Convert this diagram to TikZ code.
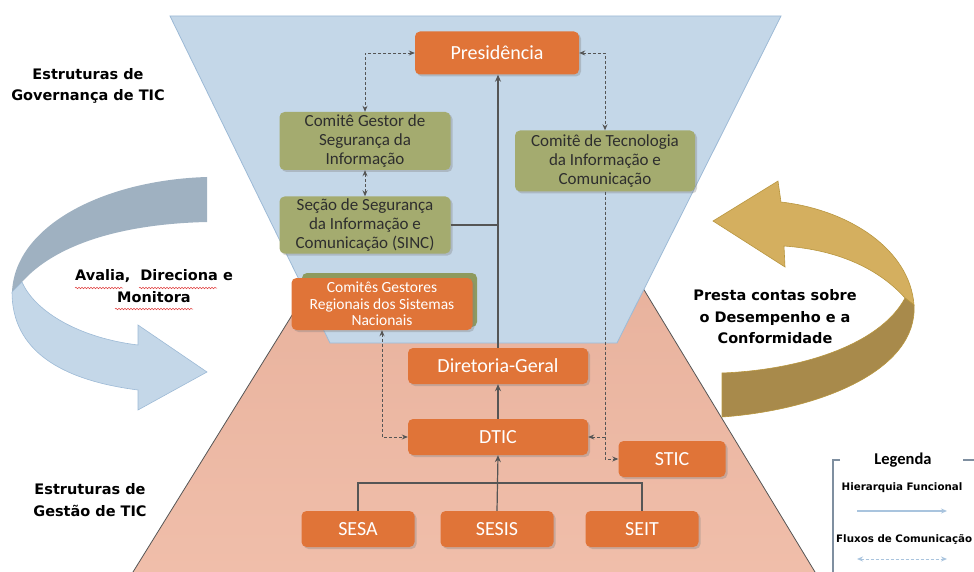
\documentclass[tikz,border=0pt]{standalone}
\usepackage{fontspec}
\setmainfont{Carlito}
\newfontfamily\labelfont{DejaVu Sans}
\usetikzlibrary{arrows.meta,shadows,decorations.pathmorphing}

\definecolor{boxorange}{HTML}{E07438}
\definecolor{boxgreen}{HTML}{A4AB6F}
\definecolor{backgreen}{HTML}{8E9A5E}
\definecolor{textgray}{HTML}{2E2E2E}
\definecolor{linegray}{HTML}{555555}
\definecolor{govblue}{HTML}{C4D7E8}
\definecolor{govedge}{HTML}{9DBAD6}
\definecolor{pinktop}{HTML}{E8B29D}
\definecolor{pinkbot}{HTML}{F0BEAA}
\definecolor{arrowblue}{HTML}{C4D7E8}
\definecolor{arrowdark}{HTML}{9FB1C1}
\definecolor{goldlight}{HTML}{D4AF5F}
\definecolor{golddark}{HTML}{A88A4B}
\definecolor{goldedge}{HTML}{B8963F}
\definecolor{legendgray}{HTML}{7F8FA0}
\definecolor{legendblue}{HTML}{A9C4DE}
\definecolor{spellred}{HTML}{E04040}

\begin{document}
\begin{tikzpicture}[x=1pt,y=-1pt]
\tikzset{
  ftip/.tip={Stealth[length=6pt,width=5pt]},
  box/.style={rounded corners=5pt, minimum height=36pt, align=center, inner sep=2pt,
    drop shadow={shadow xshift=2pt,shadow yshift=-2pt,opacity=0.35}},
  orangebox/.style={box, fill=boxorange, text=white, font=\fontsize{20}{22}\selectfont},
  greenbox/.style={box, fill=boxgreen, text=textgray, font=\fontsize{17}{18.7}\selectfont},
  hier/.style={draw=linegray, line width=1.2pt, -{Stealth[length=7pt,width=6pt]}},
  flux/.style={draw=linegray, line width=0.9pt, dash pattern=on 3pt off 2pt},
  biglabel/.style={font=\labelfont\bfseries\fontsize{14.5}{21.5}\selectfont, align=center},
  leglabel/.style={font=\labelfont\bfseries\fontsize{10.3}{12}\selectfont},
  spell/.style={spellred, line width=0.5pt, decorate, decoration={snake, amplitude=0.8pt, segment length=3pt}},
}
\useasboundingbox (0,0) rectangle (974,572);
\clip (0,0) rectangle (974,572);

% Funnel: management (pink) and governance (blue)
\shade[top color=pinktop, bottom color=pinkbot] (320,270) -- (632,270) -- (815,572) -- (133,572) -- cycle;
\draw[linegray, line width=0.8pt] (320,270) -- (133,572);
\draw[linegray, line width=0.8pt] (632,270) -- (815,572);
\filldraw[fill=govblue, draw=govedge, line width=0.8pt] (170,16) -- (781,16) -- (617,343) -- (330,343) -- cycle;

% Curved arrows
\fill[arrowdark] (207,177) .. controls (105,180) and (15,225) .. (12,292) -- (22,282) .. controls (55,245) and (120,224) .. (207,222) -- cycle;
\filldraw[fill=arrowblue, draw=govedge, line width=0.6pt] (12,292) .. controls (12,350) and (60,380) .. (138,390) -- (138,410) -- (207,372) -- (138,325) -- (138,345) .. controls (80,338) and (35,312) .. (22,282) -- cycle;
\filldraw[fill=goldlight, draw=goldedge, line width=0.6pt] (713,221) -- (778,181) -- (781,202) .. controls (850,210) and (910,250) .. (914,305) -- (905,298) .. controls (880,270) and (840,250) .. (784,246) -- (785,267) -- cycle;
\filldraw[fill=golddark, draw=goldedge, line width=0.6pt] (914,305) .. controls (918,370) and (820,410) .. (722,417) -- (722,373) .. controls (800,370) and (880,345) .. (905,298) -- cycle;

% Labels
\node[biglabel] (govlabel) at (88,86) {Estruturas de\\Governança de TIC};
\node[biglabel] (gestlabel) at (90,500) {Estruturas de\\Gestão de TIC};
\node[biglabel] (avalia) at (154,286) {Avalia,\ \ Direciona e\\Monitora};
\node[biglabel] (presta) at (775,317) {Presta contas sobre\\o Desempenho e a\\Conformidade};
\draw[spell] (75,288) -- (123,288);
\draw[spell] (139,288) -- (217,288);
\draw[spell] (115,309) -- (193,309);

% Boxes
\node[orangebox, minimum width=164pt, minimum height=43pt] (pres) at (497,53) {Presidência};
\node[greenbox, minimum width=171pt, minimum height=58pt] (cgsi) at (365,141) {Comitê Gestor de\\Segurança da\\Informação};
\node[greenbox, minimum width=171pt, minimum height=57pt] (sinc) at (365,225) {Seção de Segurança\\da Informação e\\Comunicação (SINC)};
\node[greenbox, minimum width=180pt, minimum height=61pt] (ctic) at (605,161) {Comitê de Tecnologia\\da Informação e\\Comunicação};
\fill[backgreen, rounded corners=5pt] (302,273) rectangle (477,327);
\node[orangebox, minimum width=181pt, minimum height=52pt, font=\fontsize{15.5}{16.3}\selectfont] (cgr) at (382,304) {Comitês Gestores\\Regionais dos Sistemas\\Nacionais};
\node[orangebox, minimum width=180pt] (dg) at (498,366) {Diretoria-Geral};
\node[orangebox, minimum width=180pt] (dtic) at (498,437) {DTIC};
\node[orangebox, minimum width=107pt] (stic) at (672,459) {STIC};
\node[orangebox, minimum width=113pt] (sesa) at (358,529) {SESA};
\node[orangebox, minimum width=113pt] (sesis) at (497,529) {SESIS};
\node[orangebox, minimum width=113pt] (seit) at (642,529) {SEIT};

% Functional hierarchy
\coordinate (join) at (497,483);
\draw[linegray, line width=1.2pt] (sesa.north) |- (join) -| (seit.north);
\draw[hier] (sesis.north) -- (dtic.south);
\draw[hier] (dtic) -- (dg);
\draw[hier] (dg.north) -- (dg.north |- pres.south);
\draw[linegray, line width=1.2pt] (sinc.east) -- (sinc.east -| dg.north);

% Communication flows
\draw[flux, ftip-ftip] (pres.west) -| (cgsi.north);
\draw[flux, ftip-ftip] (cgsi) -- (sinc);
\draw[flux, ftip-ftip] (pres.east) -| (ctic.north);
\draw[flux, -ftip] (ctic.south) |- (dtic.east);
\draw[flux, -ftip] (ctic.south) |- (stic.west);
\draw[flux, ftip-ftip] (cgr.south) |- (dtic.west);

% Legend
\draw[legendgray, line width=1.2pt] (840,460) -- (833,460) -- (833,580);
\draw[legendgray, line width=1.2pt] (963,460) -- (980,460);
\node[font=\bfseries\fontsize{16.5}{18}\selectfont] (legtitle) at (903,460) {Legenda};
\node[leglabel] (leghier) at (902,488) {Hierarquia Funcional};
\node[leglabel, anchor=west, inner xsep=0pt] (legflux) at (836,539) {Fluxos de Comunicação};
\coordinate (hierA) at (857,511);
\coordinate (hierB) at (947,511);
\coordinate (fluxA) at (857,559);
\coordinate (fluxB) at (947,559);
\draw[legendblue, line width=1.2pt, -ftip] (hierA) -- (hierB);
\draw[legendblue, line width=1pt, dash pattern=on 3pt off 2pt, ftip-ftip] (fluxA) -- (fluxB);

\end{tikzpicture}
\end{document}
